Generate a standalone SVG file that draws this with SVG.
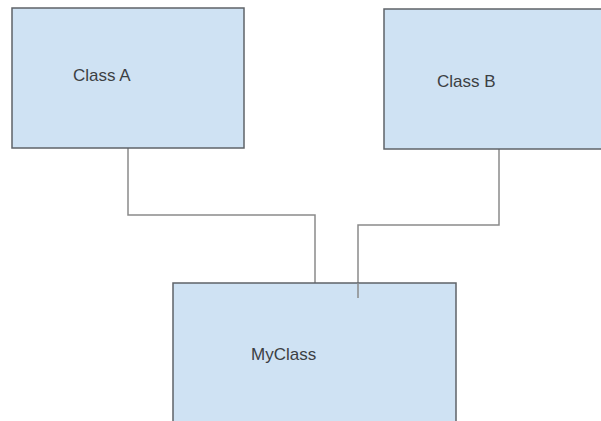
<svg xmlns="http://www.w3.org/2000/svg" width="601" height="421" viewBox="0 0 601 421">
<style>
.box{fill:#cfe2f3;stroke:#5f6368;stroke-width:1.5}
.lbl{font-family:"Liberation Sans",Arial,sans-serif;font-size:17px;fill:#3c4043}
.conn{fill:none;stroke:#8a8a8a;stroke-width:1.5}
</style>
<rect width="601" height="421" fill="#ffffff"/>
<g id="connectors">
<polyline class="conn" points="128,148 128,215 315,215 315,283"/>
<polyline class="conn" points="499,149 499,225 358,225 358,298"/>
</g>
<g id="classA">
<rect class="box" x="12" y="8" width="232" height="140"/>
<text class="lbl" x="73" y="81">Class A</text>
</g>
<g id="classB">
<rect class="box" x="384" y="9" width="230" height="140"/>
<text class="lbl" x="437" y="87">Class B</text>
</g>
<g id="myClass">
<rect class="box" x="173" y="283" width="283" height="150"/>
<text class="lbl" x="251" y="360">MyClass</text>
</g>
<polyline class="conn" points="358,283 358,298"/>
</svg>
